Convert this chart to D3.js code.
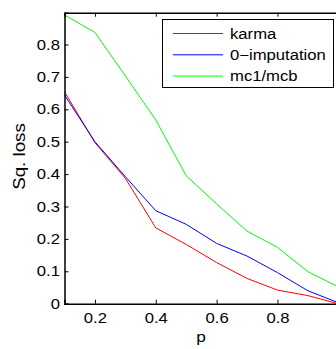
<!DOCTYPE html>
<html>
<head>
<meta charset="utf-8">
<script src="https://cdn.jsdelivr.net/npm/d3@7"></script>
<style>
  body { margin: 0; background: #fff; }
  text { font-family: "Liberation Sans", Arial, sans-serif; }
</style>
</head>
<body>
<svg id="chart" width="336" height="349"></svg>
<script>
// values
const pValues = [0.1, 0.2, 0.3, 0.4, 0.5, 0.6, 0.7, 0.8, 0.9, 1.0];
const karma = [0.654, 0.497, 0.387, 0.234, 0.183, 0.127, 0.078, 0.042, 0.025, 0.0];
const zeroImputation = [0.644, 0.500, 0.392, 0.287, 0.245, 0.186, 0.147, 0.096, 0.040, 0.003];
const mc1mcb = [0.891, 0.837, 0.703, 0.567, 0.395, 0.308, 0.224, 0.174, 0.099, 0.052];
const xTicks = [0.2, 0.4, 0.6, 0.8, 1.0];
const xTickLabels = ["0.2", "0.4", "0.6", "0.8", ""]; // 1.0 label falls outside the picture
const yTicks = [0, 0.1, 0.2, 0.3, 0.4, 0.5, 0.6, 0.7, 0.8];

const series = [
  { name: "karma", values: karma, color: "#ff0000" },
  { name: "0\u2212imputation", values: zeroImputation, color: "#0000ff" },
  { name: "mc1/mcb", values: mc1mcb, color: "#00ff00" }
];

const svg = d3.select("#chart");
const plotLeft = 64.5, plotRight = 338.3, plotTop = 12.7, plotBottom = 303.7;
const stretch = 1.15; // matlab text comes out a bit wider

const x = d3.scaleLinear().domain([0.1, 1.0]).range([plotLeft, plotRight]);
const y = d3.scaleLinear().domain([0, 0.898]).range([plotBottom, plotTop]);

// lines
const line = d3.line()
  .x((d, i) => x(pValues[i]))
  .y(d => y(d));

const plot = svg.append("g");
series.forEach(s => {
  plot.append("path")
    .datum(s.values)
    .attr("fill", "none")
    .attr("stroke", s.color)
    .attr("stroke-width", 1)
    .attr("d", line);
});

// axes (inward ticks, like matlab)
svg.append("g")
  .attr("transform", `translate(0,${plotBottom})`)
  .call(d3.axisBottom(x).tickValues(xTicks).tickSize(-4).tickPadding(9)
    .tickFormat((d, i) => xTickLabels[i]))
  .call(g => g.select(".domain").attr("stroke-width", 1.5))
  .call(g => g.selectAll(".tick text").attr("transform", `scale(${stretch},1)`));

svg.append("g")
  .attr("transform", `translate(0,${plotTop})`)
  .call(d3.axisTop(x).tickValues(xTicks).tickSize(-4).tickFormat(""))
  .call(g => g.select(".domain").attr("stroke-width", 1.5));

svg.append("g")
  .attr("transform", `translate(${plotLeft},0)`)
  .call(d3.axisLeft(y).tickValues(yTicks).tickSize(-4).tickPadding(8)
    .tickFormat(d => d === 0 ? "0" : d3.format(".1f")(d)))
  .call(g => g.select(".domain").attr("stroke-width", 1.5))
  .call(g => g.selectAll(".tick text")
    .attr("x", -4.5 / stretch)
    .attr("transform", `scale(${stretch},1)`));

svg.selectAll(".tick text").attr("font-size", 14.5).attr("fill", "#000")
  .style("font-family", '"Liberation Sans", Arial, sans-serif');
svg.selectAll(".tick line").attr("stroke", "#000");

// axis labels
svg.append("text")
  .attr("transform", `translate(201,342) scale(${stretch},1)`)
  .attr("text-anchor", "middle")
  .attr("font-size", 15)
  .text("p");

svg.append("text")
  .attr("transform", `translate(25,156.5) rotate(-90) scale(${stretch},1)`)
  .attr("text-anchor", "middle")
  .attr("font-size", 16.3)
  .text("Sq. loss");

// legend
const lg = svg.append("g");
lg.append("rect")
  .attr("x", 162.5).attr("y", 19.5)
  .attr("width", 171).attr("height", 68)
  .attr("fill", "#fff").attr("stroke", "#000").attr("stroke-width", 1);

series.forEach((s, i) => {
  const ly = 33.5 + i * 21.3;
  lg.append("line")
    .attr("x1", 173).attr("x2", 223)
    .attr("y1", ly).attr("y2", ly)
    .attr("stroke", s.color).attr("stroke-width", 1);
  lg.append("text")
    .attr("transform", `translate(230,${ly + 5}) scale(${stretch},1)`)
    .attr("font-size", 14.5)
    .text(s.name);
});
</script>
</body>
</html>
